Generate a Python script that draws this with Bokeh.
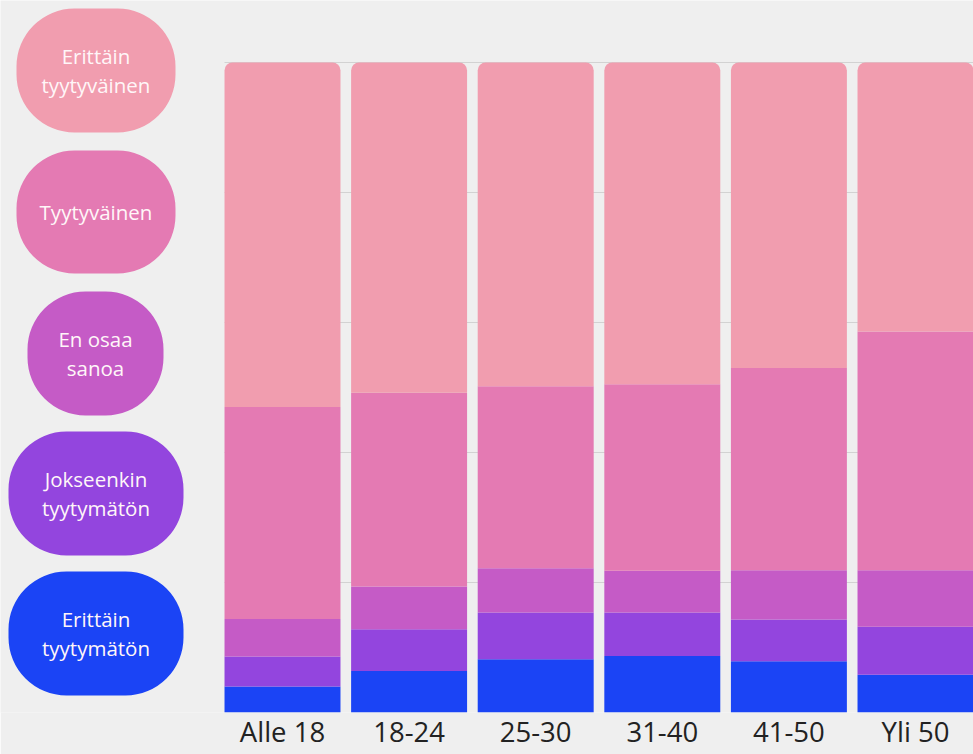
from bokeh.plotting import figure
from bokeh.models import Range1d, FixedTicker, ColumnDataSource
from bokeh.core.properties import value
from bokeh.embed import file_html
from bokeh.resources import INLINE

categories = ["Alle 18", "18-24", "25-30", "31-40", "41-50", "Yli 50"]
erittain_tyytymaton = [4.0, 6.4, 8.2, 8.7, 7.9, 5.8]
jokseenkin_tyytymaton = [4.6, 6.4, 7.2, 6.7, 6.4, 7.4]
en_osaa_sanoa = [5.8, 6.6, 6.8, 6.4, 7.6, 8.7]
tyytyvainen = [32.6, 29.8, 28.0, 28.7, 31.1, 36.7]
erittain_tyytyvainen = [53.0, 50.8, 49.8, 49.5, 47.0, 41.4]

series_names = ["Erittäin tyytymätön", "Jokseenkin tyytymätön", "En osaa sanoa",
                "Tyytyväinen", "Erittäin tyytyväinen"]
series_values = [erittain_tyytymaton, jokseenkin_tyytymaton, en_osaa_sanoa,
                 tyytyvainen, erittain_tyytyvainen]
colors = ["#1b44f5", "#9345de", "#c55bc6", "#e47ab3", "#f19daf"]

legend_labels = ["Erittäin\ntyytyväinen", "Tyytyväinen", "En osaa\nsanoa",
                 "Jokseenkin\ntyytymätön", "Erittäin\ntyytymätön"]
legend_colors = ["#f19daf", "#e47ab3", "#c55bc6", "#9345de", "#1b44f5"]

BG = "#efefef"
FONT = "Open Sans"

# layout constants (pixels)
W, H = 973, 754
FRAME_BOTTOM = 712          # pixel row of the 0 % line
PX_PER_PCT = 6.5
FIRST_CENTER = 282          # pixel column of first bar centre
STEP = 126.6                # pixels between bar centres

x_start = -FIRST_CENTER / STEP
x_end = (W - FIRST_CENTER) / STEP
y_end = FRAME_BOTTOM / PX_PER_PCT

p = figure(width=W, height=H, x_range=Range1d(x_start, x_end), y_range=Range1d(0, y_end),
           output_backend="svg", toolbar_location=None,
           min_border_left=0, min_border_right=0, min_border_top=0,
           min_border_bottom=H - FRAME_BOTTOM)
p.background_fill_color = BG
p.border_fill_color = BG
p.outline_line_color = None
p.yaxis.visible = False
p.xgrid.visible = False
p.ygrid.ticker = FixedTicker(ticks=[0, 20, 40, 60, 80, 100])
p.ygrid.grid_line_color = "#d2d2d2"
p.ygrid.grid_line_width = 1
p.ygrid.cross_bounds = (-0.458, x_end)

# stacked bars
xs = list(range(len(categories)))
bottom = [0.0] * len(categories)
for i, (name, vals, col) in enumerate(zip(series_names, series_values, colors)):
    top = [b + v for b, v in zip(bottom, vals)]
    radius = (8, 8, 0, 0) if i == len(series_values) - 1 else 0
    p.vbar(x=xs, bottom=bottom, top=top, width=0.916, fill_color=col, line_color=None,
           border_radius=radius)
    bottom = top

# legend blobs (positions in pixels converted to data coordinates)
lpx = [95.5, 95.5, 95, 95.5, 95.5]
lpy = [70, 211.5, 353, 493, 633]
lw = [159, 159, 136, 175, 175]
lh = [124, 123, 124, 124, 124]
lsrc = ColumnDataSource(dict(
    x=[(v - FIRST_CENTER) / STEP for v in lpx],
    y=[(FRAME_BOTTOM - v) / PX_PER_PCT for v in lpy],
    w=lw, h=lh, c=legend_colors, t=legend_labels))
p.rect(x="x", y="y", width="w", height="h", width_units="screen", height_units="screen",
       fill_color="c", line_color=None, border_radius=58, source=lsrc)
p.text(x="x", y="y", text="t", text_color="#fff6f8", text_font=value(FONT),
       text_font_size="20.5px", text_align="center", text_baseline="middle",
       text_line_height=1.05, source=lsrc)

p.xaxis.ticker = FixedTicker(ticks=xs)
p.xaxis.major_label_overrides = {i: c for i, c in enumerate(categories)}
p.xaxis.axis_line_color = None
p.xaxis.major_tick_line_color = None
p.xaxis.minor_tick_line_color = None
p.xaxis.major_tick_out = 0
p.xaxis.major_tick_in = 0
p.xaxis.major_label_text_font = FONT
p.xaxis.major_label_text_font_size = "27.5px"
p.xaxis.major_label_text_color = "#222222"
p.xaxis.major_label_standoff = 0

html = file_html(p, INLINE)
html = html.replace("<body>", "<body style=\"background:#efefef;margin:0;overflow:hidden\">", 1)
open("out.html", "w").write(html)
